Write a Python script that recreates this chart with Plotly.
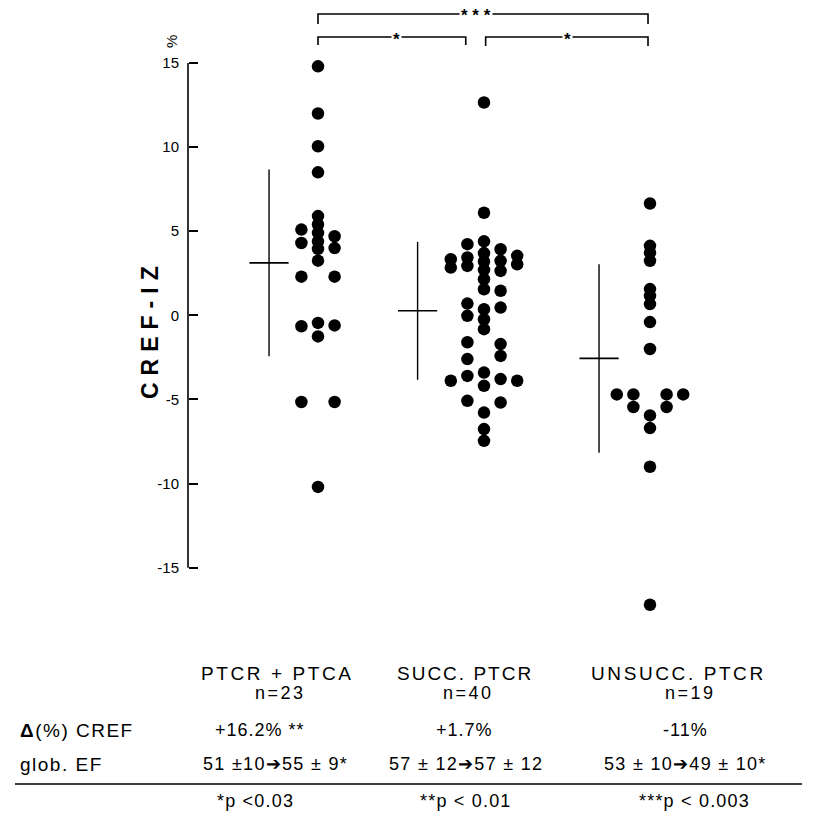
import plotly.graph_objects as go

# ---------------- data ----------------
groups = ["PTCR\u00a0+\u00a0PTCA", "SUCC. PTCR", "UNSUCC. PTCR"]
n_labels = ["n=23", "n=40", "n=19"]
delta_cref = ["+16.2% **", "+1.7%", "-11%"]
glob_ef = ["51 ±10➔55 ± 9*", "57 ± 12➔57 ± 12", "53 ± 10➔49 ± 10*"]
footnotes = ["*p <0.03", "**p < 0.01", "***p < 0.003"]

g1_values = [14.8, 12.0, 10.05, 8.5, 5.9, 5.4, 4.9, 4.4, 3.95, 3.25,
             5.1, 4.3, 4.7, 4.0, 2.3, 2.3, -0.65, -0.45, -1.25, -0.6,
             -5.15, -5.15, -10.2]
g1_lanes = [0, 0, 0, 0, 0, 0, 0, 0, 0, 0,
            -1, -1, 1, 1, -1, 1, -1, 0, 0, 1,
            -1, 1, 0]

g2_values = [12.65, 6.1, 4.4, 3.7, 3.2, 2.7, 2.15, 1.55, 0.37, -0.23, -0.82,
             -3.4, -4.19, -5.78, -6.76, -7.46,
             4.23, 3.44, 2.94, 0.7, -0.03, -1.6, -2.6, -3.6, -5.08,
             3.34, 2.84, -3.89,
             3.93, 3.24, 2.64, 1.46, 0.46, -1.71, -2.41, -3.79, -5.18,
             3.54, 3.04, -3.89]
g2_lanes = [0] * 16 + [-1] * 9 + [-2] * 3 + [1] * 9 + [2] * 3

g3_values = [6.65, 4.13, 3.73, 3.24, 1.56, 1.16, 0.67, -0.4, -2.0,
             -5.95, -6.7, -9.0, -17.2,
             -4.7, -4.7, -5.45, -4.7, -5.45, -4.7]
g3_lanes = [0] * 13 + [-2, -1, -1, 1, 1, 2]

means = [3.12, 0.27, -2.56]
sds = [5.55, 4.1, 5.6]

y_tick_vals = [-15, -10, -5, 0, 5, 10, 15]
y_tick_text = ["-15", "-10", "-5", "0", "5", "10", "15"]

# ---------------- layout helpers ----------------
W = H = 814
X_PX0, X_PX_PER = 318.0, 166.0          # pixel of group 1, pixels per group
Y_PX0, Y_PX_PER = 315.35, 16.823        # pixel of value 0, pixels per unit
LANE = 0.1
ERR_OFF = [-0.295, -0.40, -0.307]
FONT = "Liberation Sans"


def xp(px):
    return px / W


def yp(py):
    return 1 - py / H


def sp(text, s):
    return f'<span style="letter-spacing:{s}px">{text}</span>'


fig = go.Figure()

for gi, (vals, lanes) in enumerate([(g1_values, g1_lanes),
                                     (g2_values, g2_lanes),
                                     (g3_values, g3_lanes)]):
    c = gi + 1
    fig.add_trace(go.Scatter(
        x=[c + l * LANE for l in lanes], y=vals, mode="markers",
        marker=dict(size=12.5, color="black"), showlegend=False,
        hoverinfo="y"))
    fig.add_trace(go.Scatter(
        x=[c + ERR_OFF[gi]], y=[means[gi]], mode="markers",
        marker=dict(symbol="line-ew", size=28, color="black",
                    line=dict(width=1.6, color="black")),
        error_y=dict(type="data", array=[sds[gi]], symmetric=True,
                     width=0, thickness=1.4, color="black"),
        showlegend=False, hoverinfo="y"))

x_range = [1 - X_PX0 / X_PX_PER, 1 + (W - X_PX0) / X_PX_PER]
y_range = [(Y_PX0 - H) / Y_PX_PER, Y_PX0 / Y_PX_PER]
AXIS_PX = 188

fig.update_layout(
    width=W, height=H, margin=dict(l=0, r=0, t=0, b=0),
    paper_bgcolor="white", plot_bgcolor="white",
    font=dict(family=FONT, color="black"),
    xaxis=dict(range=x_range, visible=False, showgrid=False, zeroline=False),
    yaxis=dict(range=y_range, anchor="free", position=xp(AXIS_PX),
               showgrid=False, zeroline=False, showline=False,
               ticks="inside", ticklen=9, tickwidth=1.5, tickcolor="black",
               tickvals=y_tick_vals, ticktext=y_tick_text,
               tickfont=dict(size=15, family=FONT, color="black"),
               ticklabelstandoff=9),
)

shapes = []
# axis line from -15 to 15
shapes.append(dict(type="line", xref="paper", yref="y", x0=xp(AXIS_PX), x1=xp(AXIS_PX),
                   y0=-15, y1=15, line=dict(color="black", width=1.6)))


def bracket(xa, xb, top_py, bot_py):
    return dict(type="path", xref="x", yref="paper",
                path=f"M {xa},{yp(bot_py)} L {xa},{yp(top_py)} L {xb},{yp(top_py)} L {xb},{yp(bot_py)}",
                line=dict(color="black", width=1.6))


shapes.append(bracket(1, 3 - 0.012, 14, 24))
shapes.append(bracket(1, 2 - 0.11, 37, 45))
shapes.append(bracket(2 + 0.01, 3 - 0.012, 37, 46))
# horizontal rule under table
shapes.append(dict(type="line", xref="paper", yref="paper", x0=xp(15), x1=xp(802),
                   y0=yp(784), y1=yp(784), line=dict(color="black", width=1.6)))
fig.update_layout(shapes=shapes)

ann = []


def text(px, py, s, size=19, xanchor="center", bg=None, angle=0):
    d = dict(x=xp(px), y=yp(py), xref="paper", yref="paper", text=s, showarrow=False,
             xanchor=xanchor, yanchor="middle", textangle=angle,
             font=dict(size=size, family=FONT, color="black"))
    if bg:
        d["bgcolor"] = bg
    ann.append(d)


# significance stars
text(476, 15, "<b>* * *</b>", size=17, bg="white")
text(396, 39, "<b>*</b>", size=17, bg="white")
text(567, 39, "<b>*</b>", size=17, bg="white")

# y axis title and unit
text(150, 329, sp("<b>CREF-IZ</b>", 7), size=23, angle=-90)
text(171, 42, "%", size=15, angle=-90)

# table
row_y = [673, 693, 730, 764, 801]
gx = [[277, 465, 678], [280, 468, 690], [260, 464, 685], [275, 466, 685], [255, 466, 694]]
sizes = [19, 18, 18, 18, 18]
spacing = [[2.6, 2.0, 2.6], [2.5, 2.5, 2.5], [1, 1, 1], [1.3, 1.3, 1.3], [1.2, 1.2, 1.2]]
rows = [groups, n_labels, delta_cref, glob_ef, footnotes]
for r in range(5):
    for i in range(3):
        text(gx[r][i], row_y[r], sp(rows[r][i], spacing[r][i]), size=sizes[r])
text(18, row_y[2], sp("<b>Δ</b>(%) CREF", 1.5), size=19, xanchor="left")
text(18, row_y[3], sp("glob. EF", 1.5), size=19, xanchor="left")

fig.update_layout(annotations=ann)
fig.write_html("out.html", config={"displayModeBar": False},
               post_script="document.body.style.margin='0px';document.body.style.overflow='hidden';")
